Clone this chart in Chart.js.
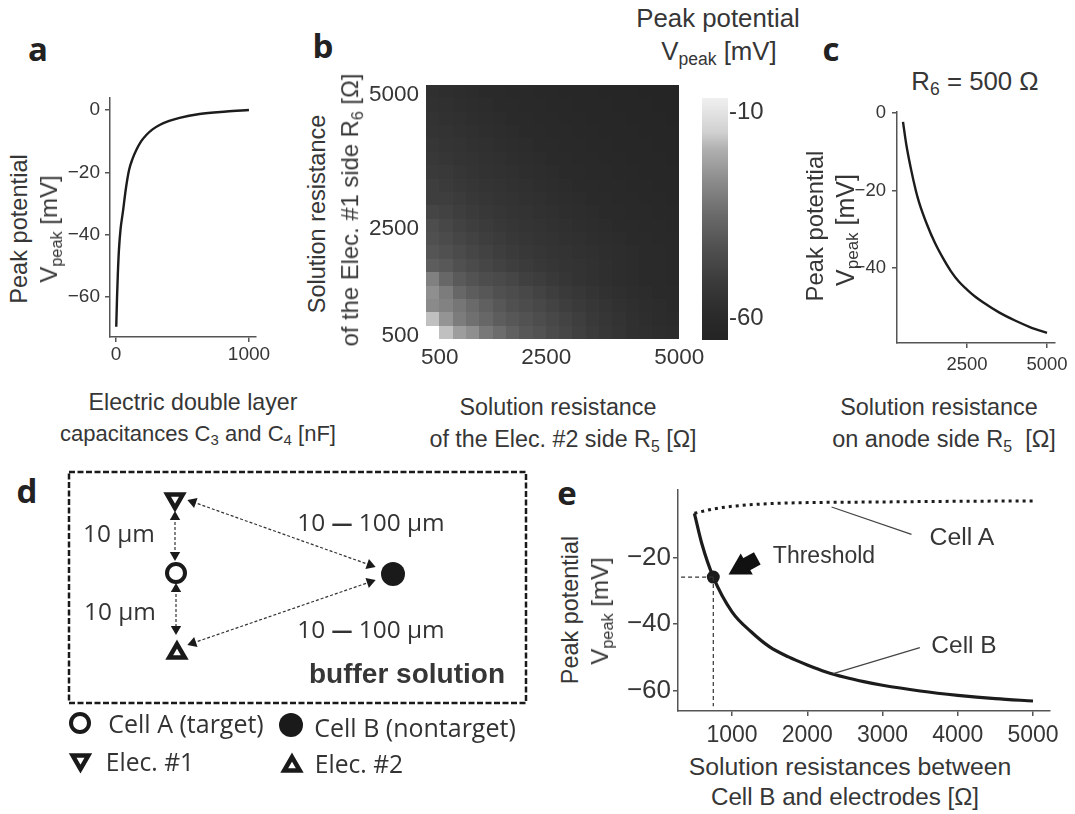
<!DOCTYPE html>
<html>
<head>
<meta charset="utf-8">
<title>Peak potential</title>
<script src="https://cdn.jsdelivr.net/npm/chart.js@4/dist/chart.umd.min.js"></script>
<style>
  html, body { margin: 0; padding: 0; background: #fff; }
  #page { position: relative; width: 1075px; height: 814px; overflow: hidden; }
  canvas { position: absolute; }
  .t { position: absolute; white-space: nowrap; transform: translate(-50%, -50%); color: #363636;
       font-family: "Liberation Sans", Arial, sans-serif; line-height: 1; }
  .r { transform: translate(-50%, -50%) rotate(-90deg); }
  .p { font-family: "Open Sans", sans-serif; font-weight: 700; color: #222; }
  .s { font-family: "Open Sans", sans-serif; color: #333; }
  .s b { font-size: 21px; }
  sub { font-size: .68em; vertical-align: -.28em; line-height: 0; }
</style>
</head>
<body>
<div id="page"></div>
<script>
// panel a
const capacitance = [2, 8, 14, 22, 35, 52, 75, 98, 125, 152, 190, 228, 275, 328, 400, 478, 628, 830, 1000];
const capPeak = [-69.5, -60, -52.5, -45, -38, -32.7, -25, -19.3, -15.6, -12.9, -10, -8, -6.2, -4.8, -3.5, -2.5, -1.3, -0.5, 0];
const aXTicks = [0, 1000];
const aYTicks = [0, -20, -40, -60];

// panel b
const resistances = [500, 750, 1000, 1250, 1500, 1750, 2000, 2250, 2500, 2750, 3000, 3250, 3500, 3750, 4000, 4250, 4500, 4750, 5000];
const heatTicks = [500, 2500, 5000];
// one row per R6, bottom row first, the 500/500 cell is off the colour scale
const heatValues = [
  [null, -17, -23, -26, -31.5, -34.5, -38, -41, -42.5, -45, -47, -49, -51, -53, -54.5, -56.5, -57, -58, -58.5],
  [-17, -25, -30.5, -33.5, -36, -39, -41, -42.5, -44, -46, -48, -50, -52, -53.5, -55, -56.5, -57.5, -58.5, -59],
  [-27, -29, -32, -35, -38, -41, -43, -44.5, -46, -48, -50, -51.5, -53, -54.5, -56, -57, -58, -58.8, -59.4],
  [-26, -30.5, -36, -39, -41, -43, -44.5, -46, -48, -50, -51.5, -53, -54.5, -56, -57, -58, -58.8, -59.4, -60],
  [-29.5, -36, -40, -42, -44, -45.5, -47, -49, -50.5, -52, -53.5, -55, -56.3, -57.2, -58, -58.8, -59.4, -60, -60.5],
  [-39, -40.5, -43, -45, -47, -48.5, -50, -51.2, -52.4, -53.4, -54.4, -55.2, -56.3, -57.2, -58, -58.8, -59.4, -60, -60.5],
  [-41.5, -43, -45, -47, -48.5, -50, -51.2, -52.4, -53.4, -54.4, -55.2, -56, -56.8, -57.5, -58.2, -58.8, -59.4, -60, -60.5],
  [-43, -45, -47, -48.5, -50, -51.2, -52.4, -53.4, -54.4, -55.2, -56, -56.8, -57.5, -58.2, -58.8, -59.4, -60, -60.5, -61],
  [-44, -46.5, -48.5, -50, -51.2, -52.4, -53.4, -54.4, -55.2, -56, -56.8, -57.5, -58.2, -58.8, -59.4, -60, -60.5, -61, -61.4],
  [-47.2, -48.5, -50, -51.2, -52.4, -53.4, -54.4, -55.2, -56, -56.8, -57.5, -58.2, -58.8, -59.4, -60, -60.5, -61, -61.4, -61.8],
  [-49.8, -50, -51.2, -52.4, -53.4, -54.4, -55.2, -56, -56.8, -57.5, -58.2, -58.8, -59.4, -60, -60.5, -61, -61.4, -61.8, -62.2],
  [-50.1, -51, -52.3, -53.4, -54.4, -55.2, -56, -56.8, -57.5, -58.2, -58.8, -59.4, -60, -60.5, -61, -61.4, -61.8, -62.2, -62.6],
  [-51.4, -52.2, -53.3, -54.4, -55.3, -56, -56.8, -57.5, -58.2, -58.8, -59.4, -60, -60.5, -61, -61.4, -61.8, -62.2, -62.6, -62.9],
  [-52.4, -53.3, -54.3, -55.2, -56, -56.8, -57.5, -58.2, -58.8, -59.4, -60, -60.5, -61, -61.4, -61.8, -62.2, -62.6, -62.9, -63.2],
  [-53.4, -54.3, -55.2, -56, -56.8, -57.5, -58.2, -58.8, -59.4, -60, -60.5, -61, -61.4, -61.8, -62.2, -62.6, -62.9, -63.2, -63.5],
  [-54.3, -55.2, -56, -56.8, -57.5, -58.2, -58.8, -59.4, -60, -60.5, -61, -61.4, -61.8, -62.2, -62.6, -62.9, -63.2, -63.5, -63.8],
  [-55.2, -56, -56.8, -57.5, -58.2, -58.8, -59.4, -60, -60.5, -61, -61.4, -61.8, -62.2, -62.6, -62.9, -63.2, -63.5, -63.8, -64],
  [-56, -56.8, -57.5, -58.2, -58.8, -59.4, -60, -60.5, -61, -61.4, -61.8, -62.2, -62.6, -62.9, -63.2, -63.5, -63.8, -64, -64.2],
  [-56.8, -57.5, -58.2, -58.8, -59.4, -60, -60.5, -61, -61.4, -61.8, -62.2, -62.6, -62.9, -63.2, -63.5, -63.8, -64, -64.2, -64.4]
];
const barTicks = [-10, -60];
const barStopsMv = [-65.3, -59.6, -51.5, -43, -35, -27, -19, -15, -6.6];
const barStopsGray = [36, 42, 58, 80, 106, 138, 176, 208, 240];

// panel c
const r5Values = [500, 600, 750, 900, 1000, 1250, 1500, 1750, 2000, 2250, 2500, 2750, 3000, 3500, 4000, 4500, 5000];
const r5Peak = [-2.3, -8, -14.5, -20, -23, -28.8, -33.6, -37.5, -40.9, -43.6, -45.6, -47.4, -48.9, -51.5, -53.6, -55.4, -56.8];
const cXTicks = [2500, 5000];
const cYTicks = [0, -20, -40];

// panel d, schematic units
const boxX = [69, 526, 526, 69, 69];
const boxY = [472, 472, 703, 703, 472];
const openX = [176, 80], openY = [573, 723];
const solidX = [393, 291], solidY = [574, 725];
const downX = [175, 80.5], downY = [499, 760];
const upX = [177, 292], upY = [653, 766];
const linkStartX = [175, 176, 193, 193];
const linkStartY = [517, 589, 502, 643];
const linkEndX = [175, 176, 370, 370];
const linkEndY = [555, 629, 565, 582];

// panel e
const cellBX = [500, 600, 751, 1000, 1250, 1500, 1750, 2000, 2250, 2500, 2750, 3000, 3500, 4000, 4500, 5000];
const cellBY = [-6.8, -16, -25.9, -36.3, -42.2, -46.8, -49.8, -52.2, -54.3, -55.9, -57.2, -58.3, -60, -61.3, -62.3, -63];
const cellAX = [500, 750, 1000, 1500, 2000, 3000, 4000, 5000];
const cellAY = [-6.8, -5.5, -4.7, -3.9, -3.6, -3.4, -3.2, -3.1];
const thresholdX = [751], thresholdY = [-25.9];
const thresholdLevelX = [323, 751], thresholdLevelY = [-25.9, -25.9];
const thresholdDropX = [751, 751], thresholdDropY = [-25.9, -64.6];
const noteAX = [2323, 3385], noteAY = [-4.9, -13.1];
const noteBX = [2345, 3496], noteBY = [-54.8, -47];
const pointerX = [1336, 1172], pointerY = [-20.3, -22.3];
const pointerTipX = [1115], pointerTipY = [-23];
const eXTicks = [1000, 2000, 3000, 4000, 5000];
const eYTicks = [-20, -40, -60];

Chart.defaults.animation = false;
Chart.defaults.layout.autoPadding = false;
Chart.defaults.font.family = '"Liberation Sans", Arial, sans-serif';
Chart.defaults.color = "#363636";

const page = document.getElementById("page");
const axisColor = "#555";

function addCanvas(left, top, width, height) {
  const c = document.createElement("canvas");
  c.style.left = left + "px";
  c.style.top = top + "px";
  c.style.width = width + "px";
  c.style.height = height + "px";
  c.width = width;
  c.height = height;
  page.appendChild(c);
  return c;
}

function zip(xs, ys) {
  return xs.map((x, i) => ({ x, y: ys[i] }));
}

function minusLabel(v) {
  return String(v).replace("-", "\u2212");
}

// makes the plot rect exact whatever the tick labels measure
function fixSize(size) {
  return s => {
    s.paddingLeft = s.paddingRight = s.paddingTop = s.paddingBottom = 0;
    if (s.isHorizontal()) s.height = size;
    else s.width = size;
  };
}

function axis(o) {
  return {
    type: "linear",
    position: o.position,
    reverse: !!o.reverse,
    min: o.min,
    max: o.max,
    afterBuildTicks: s => { s.ticks = o.ticks.map(v => ({ value: v })); },
    afterFit: fixSize(o.size),
    border: { display: o.border !== false, color: axisColor, width: 1.5 },
    grid: { drawOnChartArea: false, color: axisColor, lineWidth: 1.5, tickLength: o.tickLength === undefined ? 5 : o.tickLength, display: o.grid !== false },
    ticks: {
      autoSkip: false,
      maxRotation: 0,
      font: { size: o.font },
      color: "#363636",
      padding: o.pad,
      labelOffset: o.labelOffset || 0,
      callback: o.label || minusLabel
    }
  };
}

// plot rect is L,T,R,B in page pixels
function linePlot(L, T, R, B, yw, xh, xAxis, yAxis, datasets) {
  const padTop = 12, padRight = 32;
  const c = addCanvas(L - yw, T - padTop, yw + (R - L) + padRight, padTop + (B - T) + xh);
  xAxis.position = "bottom"; xAxis.size = xh;
  yAxis.position = "left"; yAxis.size = yw;
  return new Chart(c, {
    type: "scatter",
    data: { datasets },
    options: {
      responsive: false,
      layout: { padding: { top: padTop, right: padRight, left: 0, bottom: 0 } },
      plugins: { legend: { display: false }, tooltip: { enabled: false } },
      scales: { x: axis(xAxis), y: axis(yAxis) }
    }
  });
}

function curve(xs, ys, width, extra) {
  return Object.assign({
    data: zip(xs, ys),
    showLine: true,
    pointRadius: 0,
    borderColor: "#1c1c1c",
    borderWidth: width,
    cubicInterpolationMode: "monotone"
  }, extra || {});
}

// a
linePlot(110, 98, 256, 337, 70, 34,
  { min: -45, max: 1053, ticks: aXTicks, font: 19, pad: 1 },
  { min: -72.8, max: 3.85, ticks: aYTicks, font: 19, pad: 5 },
  [curve(capacitance, capPeak, 2.4)]);

// c
linePlot(897, 112, 1055, 343, 60, 34,
  { min: 312.5, max: 5250, ticks: cXTicks, font: 18.5, pad: 6 },
  { min: -59.4, max: 0.25, ticks: cYTicks, font: 18.5, pad: 6 },
  [curve(r5Values, r5Peak, 2.4)]);

// e
linePlot(678, 490, 1050, 711, 70, 40,
  { min: 282, max: 5226, ticks: eXTicks, font: 23, pad: 6 },
  { min: -66, max: 0.18, ticks: eYTicks, font: 26, pad: 2 },
  [
    curve(thresholdLevelX, thresholdLevelY, 1.2, { borderDash: [4, 3], borderColor: "#333", cubicInterpolationMode: "default" }),
    curve(thresholdDropX, thresholdDropY, 1.2, { borderDash: [4, 3], borderColor: "#333", cubicInterpolationMode: "default" }),
    curve(noteAX, noteAY, 1.2, { borderColor: "#444", cubicInterpolationMode: "default" }),
    curve(noteBX, noteBY, 1.2, { borderColor: "#444", cubicInterpolationMode: "default" }),
    curve(cellAX, cellAY, 3, { borderDash: [3, 4] }),
    curve(cellBX, cellBY, 3.2),
    { data: zip(thresholdX, thresholdY), pointRadius: 6.5, pointBackgroundColor: "#1c1c1c", pointBorderWidth: 0 },
    curve(pointerX, pointerY, 14, { borderColor: "#111", cubicInterpolationMode: "default" }),
    { data: zip(pointerTipX, pointerTipY), pointStyle: "triangle", pointRadius: 14, pointRotation: 240, pointBackgroundColor: "#111", pointBorderWidth: 0 }
  ]);

// b heat map, cells are filled through the chart's own scales
function grayFor(v) {
  if (v <= barStopsMv[0]) return barStopsGray[0];
  for (let i = 1; i < barStopsMv.length; i++) {
    if (v <= barStopsMv[i]) {
      const f = (v - barStopsMv[i - 1]) / (barStopsMv[i] - barStopsMv[i - 1]);
      return Math.round(barStopsGray[i - 1] + f * (barStopsGray[i] - barStopsGray[i - 1]));
    }
  }
  return 255;
}

const heatCells = [];
heatValues.forEach((row, j) => row.forEach((v, i) => {
  if (v !== null) heatCells.push({ x: resistances[i], y: resistances[j], v });
}));

const heatPlugin = {
  id: "heat",
  beforeDatasetsDraw(chart) {
    const { ctx, scales: { x, y } } = chart;
    const half = (resistances[1] - resistances[0]) / 2;
    chart.data.datasets[0].data.forEach(c => {
      const x0 = Math.round(x.getPixelForValue(c.x - half));
      const x1 = Math.round(x.getPixelForValue(c.x + half));
      const y0 = Math.round(y.getPixelForValue(c.y + half));
      const y1 = Math.round(y.getPixelForValue(c.y - half));
      const g = grayFor(c.v);
      ctx.fillStyle = `rgb(${g},${g},${g})`;
      ctx.fillRect(x0, y0, x1 - x0, y1 - y0);
    });
  }
};

new Chart(addCanvas(426 - 70, 85 - 12, 70 + 253 + 32, 12 + 254 + 34), {
  type: "scatter",
  data: { datasets: [{ data: heatCells, pointRadius: 0 }] },
  options: {
    responsive: false,
    layout: { padding: { top: 12, right: 32, left: 0, bottom: 0 } },
    plugins: { legend: { display: false }, tooltip: { enabled: false } },
    scales: {
      x: axis({ position: "bottom", size: 34, min: 375, max: 5125, ticks: heatTicks, font: 22.5, pad: 5, tickLength: 0, labelOffset: 7, border: false, grid: false, label: String }),
      y: axis({ position: "left", size: 70, min: 375, max: 5125, ticks: heatTicks, font: 22.5, pad: 7, tickLength: 0, labelOffset: 3, border: false, grid: false, label: String })
    }
  },
  plugins: [heatPlugin]
});

// colour bar
const barPlugin = {
  id: "bar",
  beforeDatasetsDraw(chart) {
    const { ctx, chartArea: a, scales: { y } } = chart;
    const grad = ctx.createLinearGradient(0, a.bottom, 0, a.top);
    barStopsMv.forEach((v, i) => {
      const g = barStopsGray[i];
      grad.addColorStop((y.getPixelForValue(v) - a.bottom) / (a.top - a.bottom), `rgb(${g},${g},${g})`);
    });
    ctx.fillStyle = grad;
    ctx.fillRect(a.left, a.top, a.right - a.left, a.bottom - a.top);
  }
};

new Chart(addCanvas(702, 98 - 12, 26 + 50, 12 + 242 + 12), {
  type: "scatter",
  data: { datasets: [{ data: barStopsMv.map(v => ({ x: 0, y: v })), pointRadius: 0 }] },
  options: {
    responsive: false,
    layout: { padding: { top: 12, bottom: 12, left: 0, right: 0 } },
    plugins: { legend: { display: false }, tooltip: { enabled: false } },
    scales: {
      x: { display: false, min: -1, max: 1 },
      y: axis({ position: "right", size: 50, min: -65.3, max: -6.6, ticks: barTicks, font: 24, pad: 1, tickLength: 0, border: false, grid: false, label: String })
    }
  },
  plugins: [barPlugin]
});

// d schematic
function markers(xs, ys, style, radius, rotation, fill, stroke) {
  return {
    data: zip(xs, ys),
    pointStyle: style,
    pointRadius: radius,
    pointRotation: rotation,
    pointBackgroundColor: fill,
    pointBorderColor: "#1a1a1a",
    pointBorderWidth: stroke
  };
}

const links = linkStartX.map((x, i) => {
  const a = Math.atan2(linkEndX[i] - x, linkStartY[i] - linkEndY[i]) * 180 / Math.PI;
  return {
    data: [{ x, y: linkStartY[i] }, { x: linkEndX[i], y: linkEndY[i] }],
    showLine: true,
    borderColor: "#333",
    borderWidth: 1.2,
    borderDash: [3, 2],
    pointStyle: "triangle",
    pointRadius: 6,
    pointRotation: [a + 180, a],
    pointBackgroundColor: "#1a1a1a",
    pointBorderWidth: 0
  };
});

new Chart(addCanvas(60, 465, 480, 340), {
  type: "scatter",
  data: {
    datasets: [
      { data: zip(boxX, boxY), showLine: true, pointRadius: 0, borderColor: "#1a1a1a", borderWidth: 2.5, borderDash: [6, 2.5] },
      ...links,
      markers(openX, openY, "circle", 9, 0, "#fff", 4),
      markers(solidX, solidY, "circle", 12, 0, "#1a1a1a", 0),
      markers(downX, downY, "triangle", 9, 180, "#fff", 4.5),
      markers(upX, upY, "triangle", 9, 0, "#fff", 4.5)
    ]
  },
  options: {
    responsive: false,
    layout: { padding: 0 },
    plugins: { legend: { display: false }, tooltip: { enabled: false } },
    scales: {
      x: { display: false, min: 60, max: 540 },
      y: { display: false, min: 465, max: 805, reverse: true }
    }
  }
});

// text: html, centre x, centre y, font size, classes
const labels = [
  ["a", 38, 48, 33, "p"], ["b", 323, 45, 33, "p"], ["c", 831, 48, 33, "p"], ["d", 27, 490, 33, "p"], ["e", 567, 492, 33, "p"],
  ["Peak potential", 20, 229, 23.6, "r"], ["V<sub>peak</sub> [mV]", 49, 229, 24, "r"],
  ["Electric double layer", 193, 403, 23.2, ""], ["capacitances C<sub>3</sub> and C<sub>4</sub> [nF]", 198, 434, 22, ""],
  ["Solution resistance", 318, 214, 23.5, "r"], ["of the Elec. #1 side R<sub>6</sub> [\u03a9]", 350, 210, 23.8, "r"],
  ["Solution resistance", 558, 408, 23.3, ""], ["of the Elec. #2 side R<sub>5</sub> [\u03a9]", 563, 440, 23.3, ""],
  ["Peak potential", 718, 19, 25.8, ""], ["V<sub>peak</sub> [mV]", 719, 52, 25.8, ""],
  ["R<sub>6</sub> = 500 \u03a9", 975, 82, 25.8, ""],
  ["Peak potential", 815, 226, 23.8, "r"], ["V<sub>peak</sub> [mV]", 845, 230, 25, "r"],
  ["Solution resistance", 939, 408, 23.4, ""], ["on anode side R<sub>5</sub>&nbsp; [\u03a9]", 944, 440, 23.5, ""],
  ["10 \u00b5m", 119, 533, 24.4, "s"], ["10 \u00b5m", 120, 611, 24.4, "s"],
  ["10 <b>\u2014</b> 100 \u00b5m", 371, 522, 24.4, "s"], ["10 <b>\u2014</b> 100 \u00b5m", 371, 629, 24.4, "s"],
  ["<b>buffer solution</b>", 407, 674, 28, ""],
  ["Cell A (target)", 186, 723, 25, "s"], ["Cell B (nontarget)", 415, 727, 25, "s"],
  ["Elec. #1", 150, 762, 24.6, "s"], ["Elec. #2", 359, 764, 24.6, "s"],
  ["Peak potential", 571, 610, 23.4, "r"], ["V<sub>peak</sub> [mV]", 600, 611, 24, "r"],
  ["Threshold", 824, 555, 23, ""], ["Cell A", 962, 537, 24.8, ""], ["Cell B", 964, 645, 24.5, ""],
  ["Solution resistances between", 850, 767, 24.8, ""], ["Cell B and electrodes [\u03a9]", 845, 797, 24.2, ""]
];

labels.forEach(([html, x, y, size, cls]) => {
  const d = document.createElement("div");
  d.className = "t " + cls;
  d.innerHTML = html;
  d.style.left = x + "px";
  d.style.top = y + "px";
  d.style.fontSize = size + "px";
  page.appendChild(d);
});
</script>
</body>
</html>
